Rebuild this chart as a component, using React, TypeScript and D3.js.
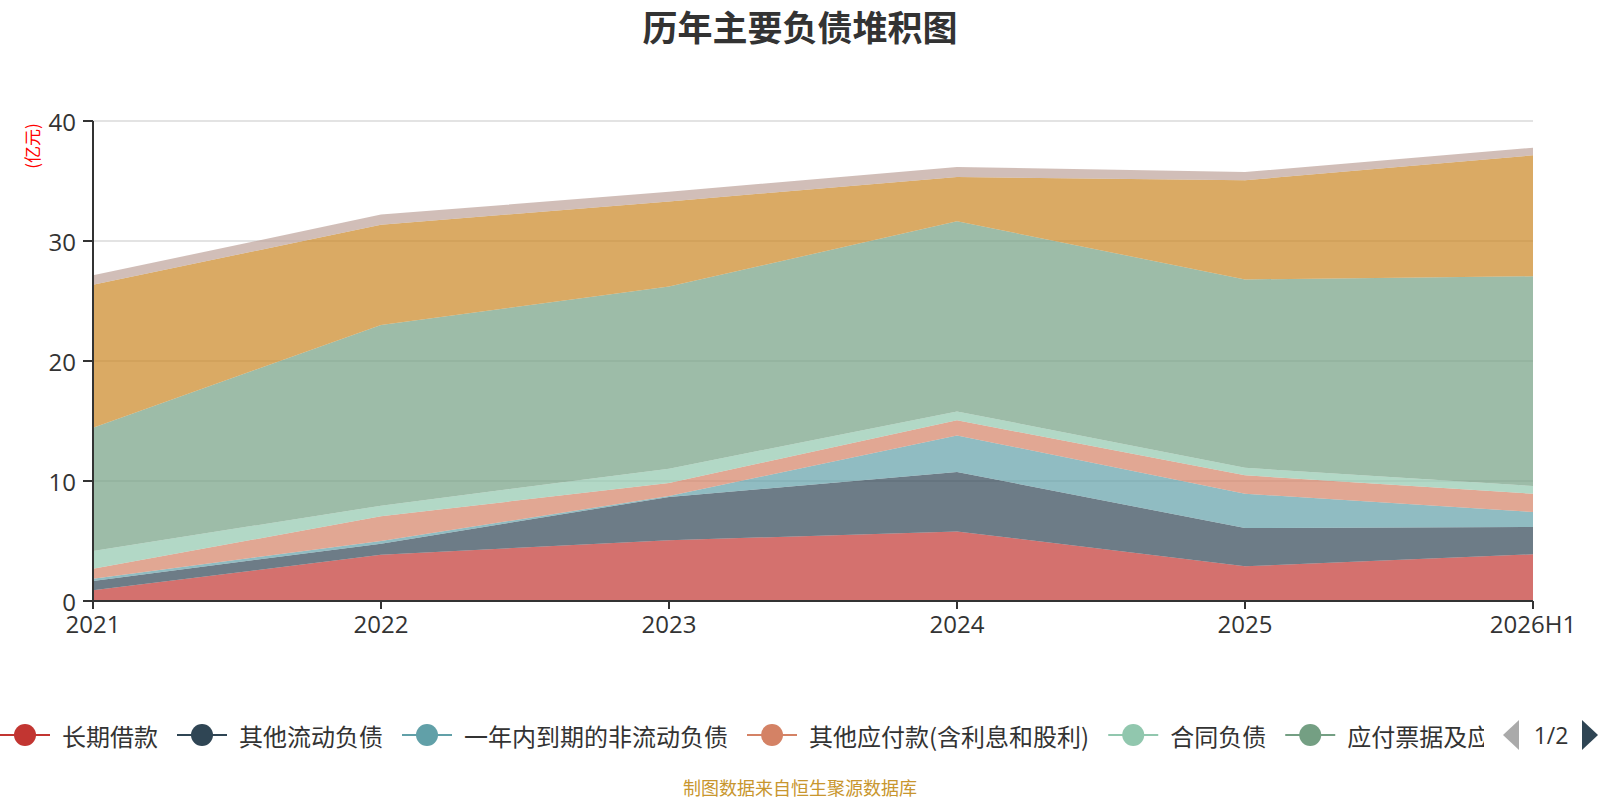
import React, { useRef, useEffect } from 'react';
import * as d3 from 'd3';

const categories = ['2021', '2022', '2023', '2024', '2025', '2026H1'];

const seriesNames = [
    '长期借款',
    '其他流动负债',
    '一年内到期的非流动负债',
    '其他应付款(含利息和股利)',
    '合同负债',
    '应付票据及应付账款',
    '短期借款',
    '应付职工薪酬',
];

const seriesColors = ['#c23531', '#2f4554', '#61a0a8', '#d48265', '#91c7ae', '#749f83', '#ca8622', '#bda29a'];

const longTermLoans = [0.89, 3.86, 5.06, 5.8, 2.89, 3.89];
const otherCurrentLiab = [0.78, 0.92, 3.61, 4.95, 3.19, 2.28];
const nonCurrentDueInYear = [0.19, 0.22, 0.08, 3.05, 2.86, 1.25];
const otherPayables = [0.83, 2.06, 1.08, 1.26, 1.53, 1.52];
const contractLiab = [1.48, 0.88, 1.2, 0.74, 0.63, 0.64];
const notesAccountsPayable = [10.27, 15.06, 15.17, 15.84, 15.7, 17.48];
const shortTermLoans = [11.92, 8.36, 7.1, 3.69, 8.26, 10.08];
const payroll = [0.78, 0.84, 0.8, 0.84, 0.69, 0.64];

const yTicks = [0, 10, 20, 30, 40];

const seriesValues = [
    longTermLoans,
    otherCurrentLiab,
    nonCurrentDueInYear,
    otherPayables,
    contractLiab,
    notesAccountsPayable,
    shortTermLoans,
    payroll,
];

const FONT = '"Noto Sans CJK SC", "Noto Sans", sans-serif';
const NUM_FONT = '"Open Sans", "Noto Sans", sans-serif';
const W = 1600;
const H = 800;

const StackChart: React.FC = () => {
    const ref = useRef<SVGSVGElement | null>(null);

    useEffect(() => {
        if (!ref.current) return;
        document.body.style.margin = '0';

        const svg = d3.select(ref.current);
        svg.selectAll('*').remove();

        // ─── geometry ───
        const left = 93;
        const right = 1533;
        const top = 121;
        const bottom = 601;

        const x = d3.scalePoint<string>().domain(categories).range([left, right]);
        const y = d3.scaleLinear().domain([0, 40]).range([bottom, top]);

        const rows = categories.map((c, i) => {
            const row: Record<string, any> = { cat: c };
            seriesNames.forEach((n, k) => (row[n] = seriesValues[k][i]));
            return row;
        });

        const stacked = d3.stack<Record<string, any>>().keys(seriesNames)(rows);

        // ─── title ───
        svg.append('text')
            .attr('x', W / 2)
            .attr('y', 25)
            .attr('text-anchor', 'middle')
            .attr('dominant-baseline', 'central')
            .style('font-family', FONT)
            .style('font-size', '35px')
            .style('font-weight', 700)
            .style('fill', '#333')
            .text('历年主要负债堆积图');

        // ─── grid ───
        svg.append('g')
            .selectAll('line')
            .data(yTicks.filter(t => t > 0))
            .enter()
            .append('line')
            .attr('x1', left)
            .attr('x2', right)
            .attr('y1', d => y(d))
            .attr('y2', d => y(d))
            .attr('stroke', '#c8c8c8')
            .attr('stroke-width', 1.2);

        // ─── areas ───
        const area = d3
            .area<d3.SeriesPoint<Record<string, any>>>()
            .x(d => x(d.data.cat) as number)
            .y0(d => y(d[0]))
            .y1(d => y(d[1]));

        svg.append('g')
            .selectAll('path')
            .data(stacked)
            .enter()
            .append('path')
            .attr('d', d => area(d) as string)
            .attr('fill', (_, i) => seriesColors[i])
            .attr('fill-opacity', 0.7);

        // ─── axes ───
        const axisColor = '#333';
        svg.append('line')
            .attr('x1', left).attr('x2', left)
            .attr('y1', top).attr('y2', bottom)
            .attr('stroke', axisColor).attr('stroke-width', 2);

        svg.append('line')
            .attr('x1', left).attr('x2', right)
            .attr('y1', bottom).attr('y2', bottom)
            .attr('stroke', axisColor).attr('stroke-width', 2);

        const yAxis = svg.append('g');
        yAxis.selectAll('line')
            .data(yTicks)
            .enter()
            .append('line')
            .attr('x1', left - 10)
            .attr('x2', left)
            .attr('y1', d => y(d))
            .attr('y2', d => y(d))
            .attr('stroke', axisColor)
            .attr('stroke-width', 2);
        yAxis.selectAll('text')
            .data(yTicks)
            .enter()
            .append('text')
            .attr('x', left - 17)
            .attr('y', d => y(d))
            .attr('text-anchor', 'end')
            .attr('dominant-baseline', 'central')
            .style('font-family', NUM_FONT)
            .style('font-size', '24px')
            .style('fill', '#333')
            .text(d => d);

        const xAxis = svg.append('g');
        xAxis.selectAll('line')
            .data(categories)
            .enter()
            .append('line')
            .attr('x1', d => x(d) as number)
            .attr('x2', d => x(d) as number)
            .attr('y1', bottom)
            .attr('y2', bottom + 8)
            .attr('stroke', axisColor)
            .attr('stroke-width', 2);
        xAxis.selectAll('text')
            .data(categories)
            .enter()
            .append('text')
            .attr('x', d => x(d) as number)
            .attr('y', bottom + 32)
            .attr('text-anchor', 'middle')
            .style('font-family', NUM_FONT)
            .style('font-size', '24px')
            .style('fill', '#333')
            .text(d => d);

        // unit label
        svg.append('text')
            .attr('transform', `translate(31,146) rotate(-90)`)
            .attr('text-anchor', 'middle')
            .attr('dominant-baseline', 'central')
            .style('font-family', FONT)
            .style('font-size', '17px')
            .style('fill', '#ff0000')
            .text('(亿元)');

        // ─── legend (page 1 of 2) ───
        const legendY = 735;
        const clipRight = 1484;
        svg.append('defs')
            .append('clipPath')
            .attr('id', 'legend-clip')
            .append('rect')
            .attr('x', 0)
            .attr('y', legendY - 30)
            .attr('width', clipRight)
            .attr('height', 60);

        const legend = svg.append('g').attr('clip-path', 'url(#legend-clip)');
        let cursor = 0;
        seriesNames.slice(0, 6).forEach((name, i) => {
            const item = legend.append('g');
            item.append('line')
                .attr('x1', cursor)
                .attr('x2', cursor + 50)
                .attr('y1', legendY)
                .attr('y2', legendY)
                .attr('stroke', seriesColors[i])
                .attr('stroke-width', 2);
            item.append('circle')
                .attr('cx', cursor + 25)
                .attr('cy', legendY)
                .attr('r', 11)
                .attr('fill', seriesColors[i]);
            const t = item.append('text')
                .attr('x', cursor + 62)
                .attr('y', legendY)
                .attr('dominant-baseline', 'central')
                .style('font-family', FONT)
                .style('font-size', '24px')
                .style('fill', '#333')
                .text(name);
            const node = t.node() as SVGTextElement;
            // drop characters that would be hidden entirely by the clip
            let label = name;
            while (label.length > 1 && cursor + 62 + node.getComputedTextLength() > clipRight + 24) {
                label = label.slice(0, -1);
                t.text(label);
            }
            cursor += 62 + node.getComputedTextLength() + 19;
        });

        // pager
        svg.append('path')
            .attr('d', `M1519,${legendY - 15} L1503,${legendY} L1519,${legendY + 15} Z`)
            .attr('fill', '#aaa');
        svg.append('text')
            .attr('x', 1551)
            .attr('y', legendY)
            .attr('text-anchor', 'middle')
            .attr('dominant-baseline', 'central')
            .style('font-family', NUM_FONT)
            .style('font-size', '23px')
            .style('fill', '#333')
            .text('1/2');
        svg.append('path')
            .attr('d', `M1582,${legendY - 15} L1598,${legendY} L1582,${legendY + 15} Z`)
            .attr('fill', '#2f4554');

        // ─── footer ───
        svg.append('text')
            .attr('x', W / 2)
            .attr('y', 787)
            .attr('text-anchor', 'middle')
            .attr('dominant-baseline', 'central')
            .style('font-family', FONT)
            .style('font-size', '18px')
            .style('fill', '#c8962e')
            .text('制图数据来自恒生聚源数据库');
    }, []);

    return <svg ref={ref} width={W} height={H} style={{ display: 'block' }} />;
};

export default function App() {
    return <StackChart />;
}
